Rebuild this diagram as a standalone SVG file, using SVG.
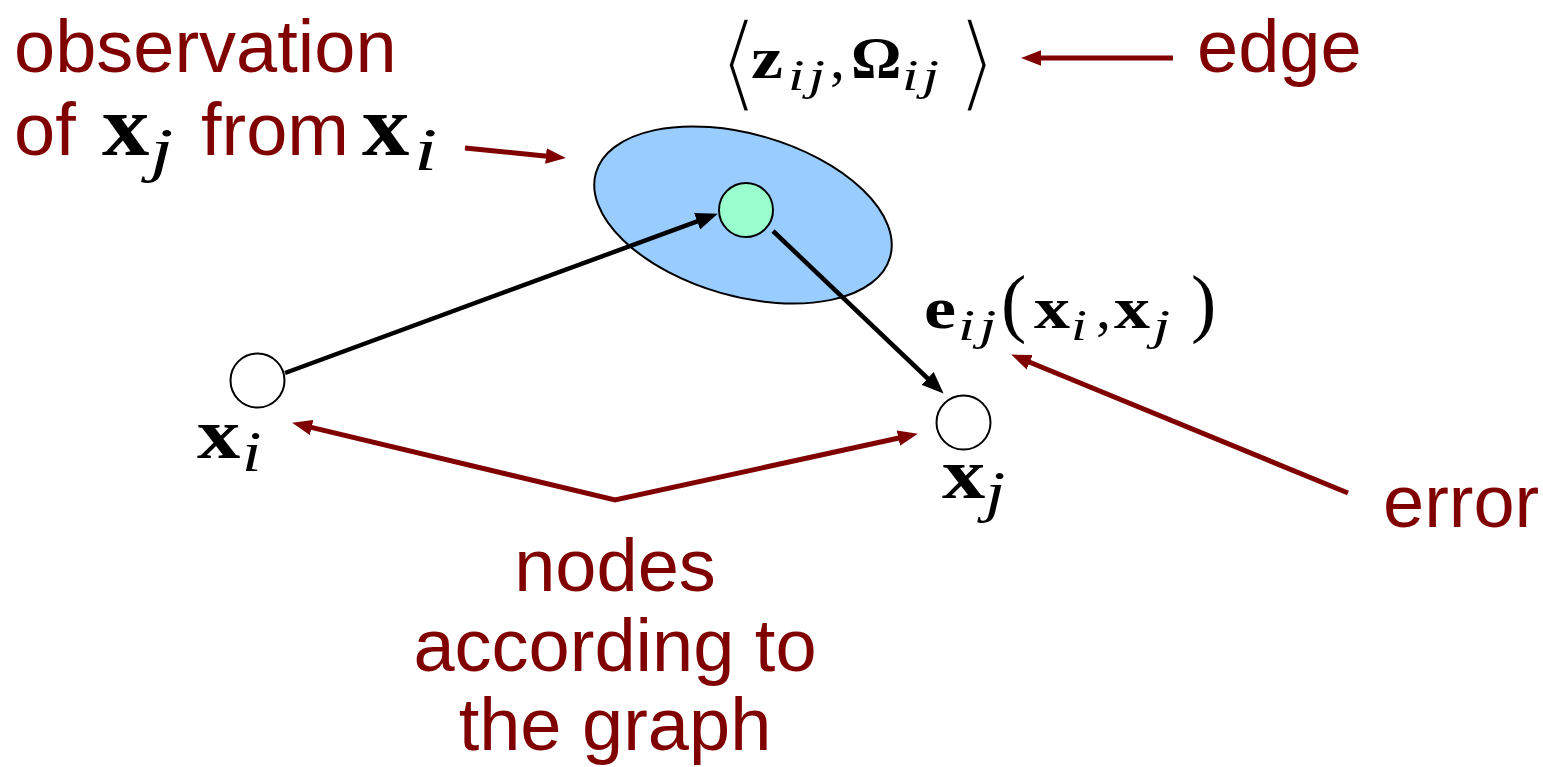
<svg xmlns="http://www.w3.org/2000/svg" width="1543" height="767" viewBox="0 0 1543 767">
<defs>
<style>
.lbl{font-family:"Liberation Sans",Arial,sans-serif;font-size:74px;fill:#800000}
.mb{font-family:"Liberation Serif","Times New Roman",serif;font-weight:bold;fill:#000}
.mi{font-family:"Liberation Serif","Times New Roman",serif;font-style:italic;fill:#000}
.mr{font-family:"Liberation Serif","Times New Roman",serif;fill:#000}
.br{font-family:"DejaVu Sans",sans-serif;fill:#000;stroke:#fff;stroke-width:3;paint-order:fill stroke}
.blk{stroke:#000;stroke-width:4.5;fill:none}
.red{stroke:#800000;stroke-width:5;fill:none}
.node{fill:#fff;stroke:#000;stroke-width:2}
</style>
<marker id="ahB" markerUnits="userSpaceOnUse" markerWidth="22" markerHeight="18" viewBox="0 0 20 16" refX="12" refY="8" orient="auto"><path d="M0,0 L20,8 L0,16 Z" fill="#000"/></marker>
<marker id="ahR" markerUnits="userSpaceOnUse" markerWidth="20" markerHeight="16" viewBox="0 0 18 14" refX="10" refY="7" orient="auto-start-reverse"><path d="M0,0 L18,7 L0,14 Z" fill="#800000"/></marker>
</defs>
<rect width="1543" height="767" fill="#fff"/>

<g id="covariance">
<ellipse cx="743" cy="215" rx="153" ry="81" transform="rotate(16 743 215)" fill="#99ccff" stroke="#000" stroke-width="2"/>
</g>
<g id="node-obs"><circle cx="746" cy="210" r="27" fill="#99ffcc" stroke="#000" stroke-width="2"/></g>
<g id="node-xi"><circle cx="257.5" cy="380.5" r="27" class="node"/></g>
<g id="node-xj"><circle cx="963.5" cy="422.5" r="27" class="node"/></g>

<g id="connectors">
<line class="blk" x1="285" y1="373" x2="709.5" y2="216.8" marker-end="url(#ahB)"/>
<line class="blk" x1="773" y1="231" x2="937.2" y2="387.5" marker-end="url(#ahB)"/>
<line class="red" x1="465" y1="148" x2="557" y2="157.2" marker-end="url(#ahR)"/>
<line class="red" x1="1173" y1="58" x2="1030" y2="58" marker-end="url(#ahR)"/>
<polyline class="red" points="300.8,424.9 615,500 909.2,435.7" marker-start="url(#ahR)" marker-end="url(#ahR)"/>
<line class="red" x1="1348" y1="493" x2="1019.4" y2="358" marker-end="url(#ahR)"/>
</g>

<g id="label-observation">
<text class="lbl" x="14" y="72">observation</text>
<text class="lbl" x="14" y="155">of</text>
<text class="mb" font-size="86" transform="translate(102 155) scale(1.1 1)">x</text>
<text class="mi" font-size="62" transform="translate(150 170) scale(1.35 1)">j</text>
<text class="lbl" x="201" y="155">from</text>
<text class="mb" font-size="86" transform="translate(362 155) scale(1.1 1)">x</text>
<text class="mi" font-size="62" transform="translate(414 170) scale(1.35 1)">i</text>
</g>

<g id="label-edge-math">
<text class="br" font-size="60" transform="translate(716.6 98.5) scale(1.9 1.8)">⟨</text>
<text class="br" font-size="60" transform="translate(954.5 98.5) scale(1.9 1.8)">⟩</text>
<text class="mb" font-size="60" transform="translate(751 78) scale(1.2 1)">z</text>
<text class="mi" font-size="44" letter-spacing="3" transform="translate(788 90) scale(1.35 1)">ij</text>
<text class="mr" x="830" y="78" font-size="60">,</text>
<text class="mb" font-size="60" transform="translate(851 78) scale(1.05 1)">Ω</text>
<text class="mi" font-size="44" letter-spacing="3" transform="translate(902 90) scale(1.35 1)">ij</text>
</g>
<g id="label-edge"><text class="lbl" x="1197" y="72">edge</text></g>

<g id="label-error-math">
<text class="mb" font-size="60" transform="translate(924 328) scale(1.2 1)">e</text>
<text class="mi" font-size="44" letter-spacing="3" transform="translate(958 340) scale(1.4 1)">ij</text>
<text class="mr" x="1001" y="328" font-size="76">(</text>
<text class="mb" font-size="60" transform="translate(1034 328) scale(1.2 1)">x</text>
<text class="mi" font-size="44" transform="translate(1071 340) scale(1.3 1)">i</text>
<text class="mr" x="1096" y="328" font-size="60">,</text>
<text class="mb" font-size="60" transform="translate(1114 328) scale(1.2 1)">x</text>
<text class="mi" font-size="44" transform="translate(1153 340) scale(1.4 1)">j</text>
<text class="mr" x="1191" y="328" font-size="76">)</text>
</g>
<g id="label-error"><text class="lbl" x="1383" y="527">error</text></g>

<g id="label-xi">
<text class="mb" font-size="72" transform="translate(197 458) scale(1.2 1)">x</text>
<text class="mi" font-size="56" transform="translate(242 471) scale(1.25 1)">i</text>
</g>
<g id="label-xj">
<text class="mb" font-size="72" transform="translate(942 498) scale(1.2 1)">x</text>
<text class="mi" font-size="56" transform="translate(985 511) scale(1.3 1)">j</text>
</g>

<g id="label-nodes">
<text class="lbl" x="615" y="591" text-anchor="middle">nodes</text>
<text class="lbl" x="615" y="671" text-anchor="middle">according to</text>
<text class="lbl" x="615" y="750" text-anchor="middle">the graph</text>
</g>
</svg>
